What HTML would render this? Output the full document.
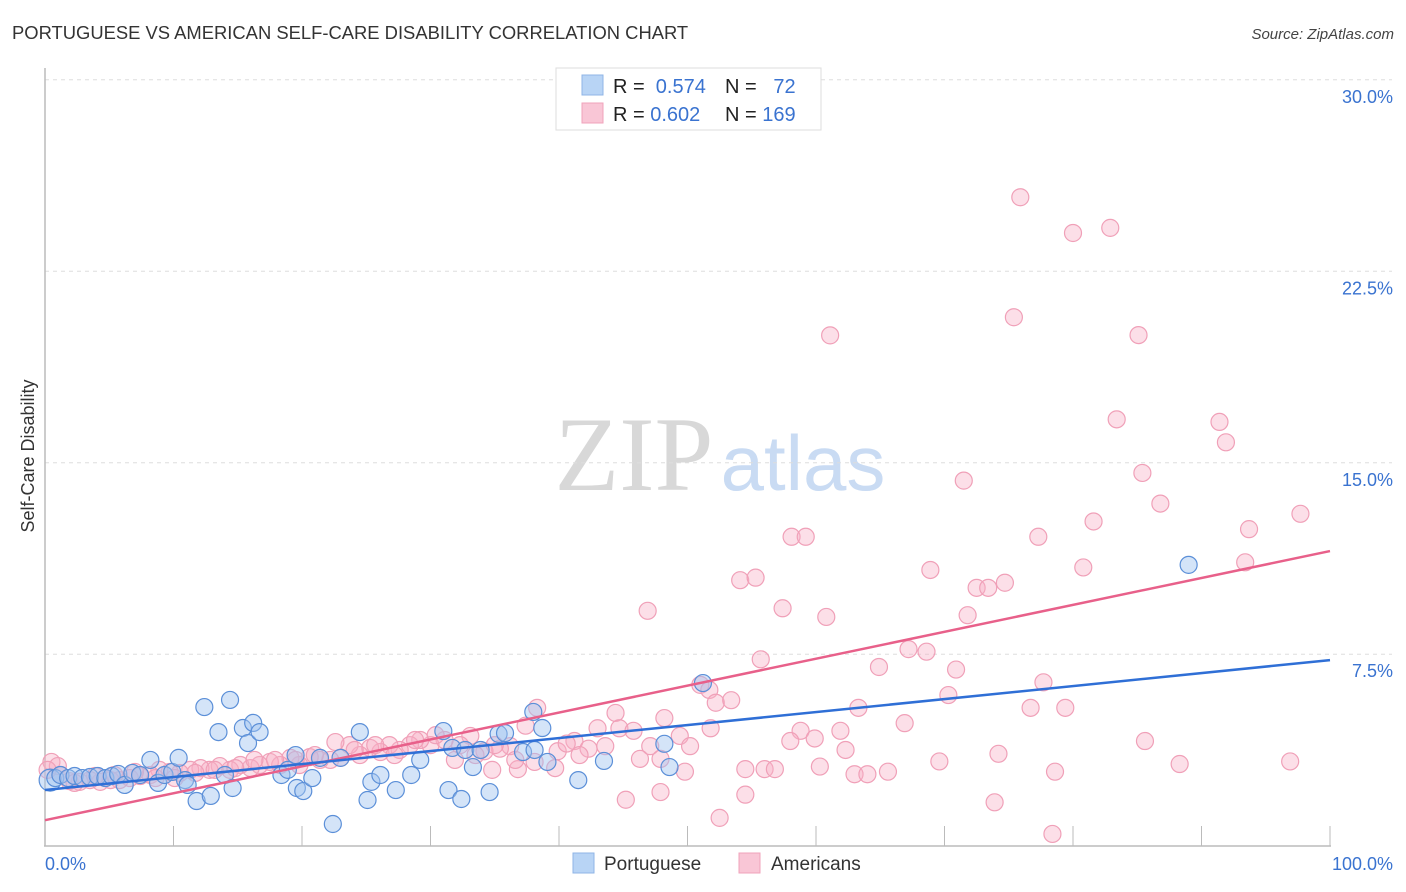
<!DOCTYPE html>
<html><head><meta charset="utf-8">
<style>
body{margin:0;background:#fff;font-family:"Liberation Sans",sans-serif;}
svg{display:block}
</style></head>
<body>
<svg id="chart" width="1406" height="892">
<text x="12" y="39" font-size="18.4" fill="#333">PORTUGUESE VS AMERICAN SELF-CARE DISABILITY CORRELATION CHART</text>
<text x="1394" y="39" font-size="15" fill="#444" font-style="italic" text-anchor="end">Source: ZipAtlas.com</text>
<g>
<text x="634" y="490" font-size="106" fill="#d8d8d8" font-family="Liberation Serif,serif" text-anchor="middle">ZIP</text>
<text x="803" y="490" font-size="78" fill="#c9dbf3" text-anchor="middle">atlas</text>
</g>
<g id="grid"></g>
<g id="axes"></g>
<g id="pts"></g>
<g id="trends"></g>
<text x="34" y="456" font-size="18" fill="#333" text-anchor="middle" transform="rotate(-90 34 456)">Self-Care Disability</text>
<text x="45" y="870" font-size="18" fill="#3a73d0">0.0%</text>
<text x="1393" y="870" font-size="18" fill="#3a73d0" text-anchor="end">100.0%</text>
<g>
<rect x="556" y="68" width="265" height="62" fill="#fff" stroke="#ddd"/>
<rect x="582" y="75" width="21" height="20" fill="#b8d4f5" stroke="#8fb4e6"/>
<rect x="582" y="103" width="21" height="20" fill="#f9c6d6" stroke="#f0a3bb"/>
<text x="613" y="93" font-size="20" fill="#222">R = <tspan fill="#3a73d0">&#160;0.574</tspan></text>
<text x="725" y="93" font-size="20" fill="#222">N = <tspan fill="#3a73d0">&#160;&#160;72</tspan></text>
<text x="613" y="121" font-size="20" fill="#222">R = <tspan fill="#3a73d0">0.602</tspan></text>
<text x="725" y="121" font-size="20" fill="#222">N = <tspan fill="#3a73d0">169</tspan></text>
</g>
<g>
<rect x="573" y="853" width="21" height="20" fill="#b8d4f5" stroke="#8fb4e6"/>
<text x="604" y="870" font-size="19" fill="#333">Portuguese</text>
<rect x="739" y="853" width="21" height="20" fill="#f9c6d6" stroke="#f0a3bb"/>
<text x="771" y="870" font-size="19" fill="#333">Americans</text>
</g>
</svg>
<script>
const yTicks=[7.5,15,22.5,30];
const yTickLabels=["7.5%","15.0%","22.5%","30.0%"];
const xTicks=[0,10,20,30,40,50,60,70,80,90,100];
const blueX=[0.4,0.8,1.2,1.8,2.3,2.9,3.5,4.1,4.7,5.2,5.7,6.2,6.8,7.4,8.2,8.8,9.3,9.9,10.4,10.9,11.1,11.8,12.4,12.9,13.5,14.0,14.4,14.6,15.4,15.8,16.2,16.7,18.4,18.9,19.5,19.6,20.1,20.8,21.4,22.4,23.0,24.5,25.1,25.4,26.1,27.3,28.5,29.2,31.0,31.4,31.7,32.4,32.7,33.3,33.9,34.6,35.3,35.8,37.2,38.0,38.1,38.7,39.1,41.5,43.5,48.2,48.6,51.2,89.0];
const blueY=[2.57,2.65,2.77,2.65,2.73,2.65,2.69,2.73,2.65,2.73,2.81,2.38,2.85,2.77,3.36,2.46,2.77,2.89,3.44,2.57,2.38,1.75,5.43,1.95,4.45,2.77,5.71,2.26,4.61,4.02,4.81,4.45,2.77,2.97,3.55,2.26,2.14,2.65,3.44,0.85,3.44,4.45,1.79,2.50,2.77,2.18,2.77,3.36,4.49,2.18,3.83,1.83,3.75,3.08,3.75,2.10,4.38,4.41,3.67,5.24,3.75,4.61,3.28,2.57,3.32,3.99,3.08,6.37,11.0];
const pinkX=[75.9,80.0,82.9,61.1,75.4,85.1,83.4,91.4,91.9,71.5,85.4,86.8,81.6,97.7,93.7,58.1,59.2,77.3,54.1,55.3,68.9,72.5,73.4,74.7,80.8,93.4,46.9,57.4,60.8,71.8,55.7,64.9,67.2,68.6,70.9,51.0,51.7,52.2,53.4,70.3,77.7,63.3,66.9,76.7,79.4,44.4,48.2,51.8,44.7,45.8,58.8,61.9,58.0,59.9,85.6,62.3,49.4,50.2,47.1,43.0,43.6,41.2,42.3,39.9,40.6,46.3,74.2,54.5,56.0,56.8,60.3,63.0,64.0,65.6,69.6,78.6,88.3,96.9,49.8,47.9,45.2,47.9,54.5,73.9,78.4,52.5,38.3,37.4,36.2,34.8,36.8,35.4,34.2,33.1,32.3,31.1,30.0,29.2,28.4,27.6,26.8,26.1,25.3,24.5,23.7,23.0,22.2,21.4,20.6,19.8,19.1,18.3,17.5,16.7,16.0,15.2,14.4,13.6,12.8,12.1,11.3,10.5,9.7,8.9,8.2,7.4,6.6,5.8,5.1,4.3,3.5,2.7,1.9,1.2,0.5,1.0,0.2,2.3,3.9,5.4,7.0,8.6,10.1,11.7,13.2,14.8,16.3,17.9,19.5,21.0,22.6,24.1,25.7,27.2,28.8,30.4,31.9,33.5,35.0,36.6,38.1,39.7,41.6];
const pinkY=[25.4,24.0,24.2,19.99,20.7,20.0,16.7,16.6,15.8,14.3,14.6,13.4,12.7,13.0,12.4,12.1,12.1,12.1,10.4,10.5,10.8,10.1,10.1,10.3,10.9,11.1,9.2,9.3,8.96,9.03,7.3,7.0,7.7,7.6,6.9,6.3,6.1,5.6,5.7,5.9,6.4,5.4,4.8,5.4,5.4,5.2,5.0,4.6,4.6,4.5,4.5,4.5,4.1,4.2,4.1,3.75,4.3,3.9,3.9,4.6,3.9,4.1,3.8,3.7,4.0,3.4,3.6,3.0,3.0,3.0,3.1,2.8,2.8,2.9,3.3,2.9,3.2,3.3,2.9,3.4,1.8,2.1,2.0,1.7,0.46,1.09,5.4,4.7,3.9,2.97,3.0,3.8,3.7,4.3,3.94,4.14,3.94,4.14,3.94,3.75,3.94,3.67,3.83,3.55,3.94,3.44,3.36,3.36,3.47,3.16,3.44,3.16,3.28,3.16,3.04,3.16,2.97,3.12,2.97,3.04,2.97,2.85,2.89,2.97,2.77,2.73,2.65,2.57,2.57,2.50,2.57,2.50,2.53,2.77,3.28,3.12,2.97,2.46,2.73,2.77,2.89,2.65,2.65,2.85,2.97,3.04,3.36,3.36,3.36,3.55,4.06,3.75,3.94,3.55,4.14,4.33,3.36,3.55,3.94,3.36,3.28,3.04,3.55];
const blueTrend=[2.18,7.27];
const pinkTrend=[1.0,11.54];

const NS="http://www.w3.org/2000/svg";
const X0=45,X1=1330,Y0=845.7,YS=25.53;
function sx(v){return X0+(X1-X0)*v/100;}
function sy(v){return Y0-v*YS;}
function mk(tag,attrs,parent){const e=document.createElementNS(NS,tag);for(const k in attrs)e.setAttribute(k,attrs[k]);parent.appendChild(e);return e;}
const grid=document.getElementById('grid'),axes=document.getElementById('axes'),pts=document.getElementById('pts'),tr=document.getElementById('trends');
yTicks.forEach((t,i)=>{
  const l=mk('line',{x1:45,x2:1392,y1:sy(t),y2:sy(t),stroke:'#ddd','stroke-dasharray':'4,4'},grid);
  
  
  const tx=mk('text',{x:1393,y:sy(t)+23,'font-size':18,fill:'#3a73d0','text-anchor':'end'},grid);
  tx.textContent=yTickLabels[i];
  
  
});
const ya=mk('line',{x1:45,x2:45,y1:68,y2:846,stroke:'#bbb','stroke-width':1.5},axes);


const xa=mk('line',{x1:44,x2:1331,y1:846,y2:846,stroke:'#bbb','stroke-width':1.5},axes);


xTicks.forEach(t=>{
  const l=mk('line',{x1:sx(t),x2:sx(t),y1:826,y2:846,stroke:'#bbb'},axes);
  
  
});
pinkX.forEach((x,i)=>{
  const c=mk('circle',{cx:sx(x),cy:sy(pinkY[i]),r:8.5,fill:'rgba(247,175,198,0.4)',stroke:'#f0a0b8','stroke-width':1.2},pts);
  
  
});
blueX.forEach((x,i)=>{
  const c=mk('circle',{cx:sx(x),cy:sy(blueY[i]),r:(i===0?11:8.5),fill:'rgba(160,196,240,0.45)',stroke:'#5b8fd8','stroke-width':1.2},pts);
  
  
});
const pl=mk('line',{x1:sx(0),y1:sy(pinkTrend[0]),x2:sx(100),y2:sy(pinkTrend[1]),stroke:'#e8608a','stroke-width':2.5},tr);


const bl=mk('line',{x1:sx(0),y1:sy(blueTrend[0]),x2:sx(100),y2:sy(blueTrend[1]),stroke:'#2f6fd6','stroke-width':2.5},tr);


</script>
</body></html>
